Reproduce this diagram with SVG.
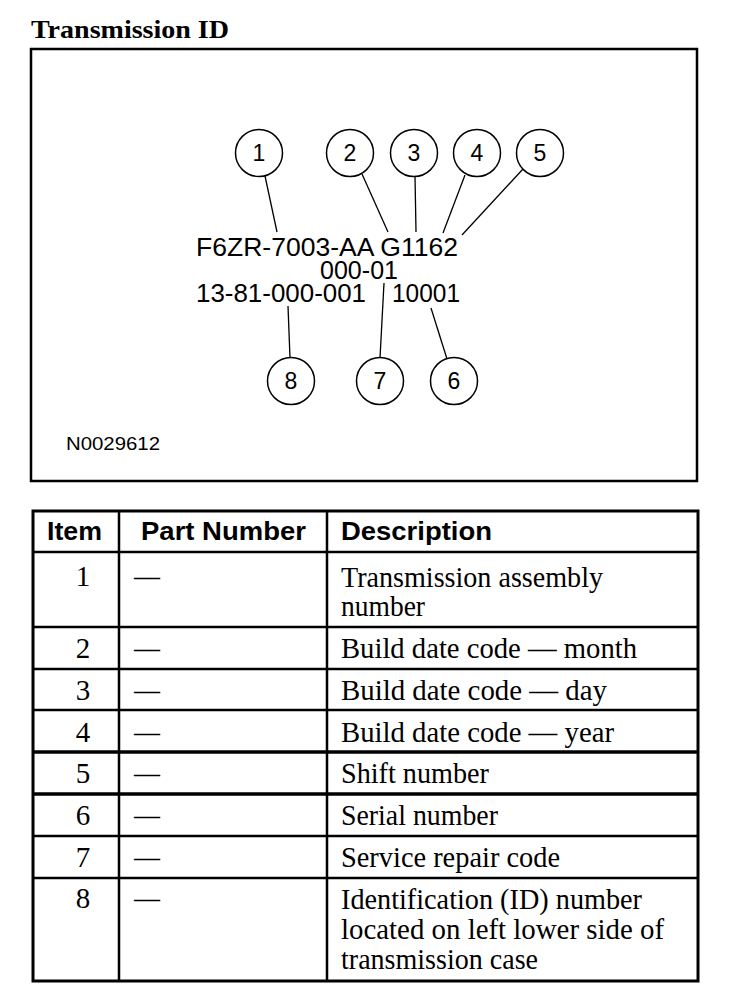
<svg xmlns="http://www.w3.org/2000/svg" width="736" height="990" viewBox="0 0 736 990">
<style>
.title{font-family:"Liberation Serif",serif;font-weight:bold;font-size:25px;fill:#000}
.code{font-family:"Liberation Sans",Arial,sans-serif;font-size:26px;fill:#000}
.num{font-family:"Liberation Sans",Arial,sans-serif;font-size:23px;fill:#000;text-anchor:middle}
.fig{font-family:"Liberation Sans",Arial,sans-serif;font-size:18px;fill:#000}
.hdr{font-family:"Liberation Sans",Arial,sans-serif;font-weight:bold;font-size:25px;fill:#000}
.cell{font-family:"Liberation Serif",serif;font-size:29px;fill:#000}
.item{font-family:"Liberation Serif",serif;font-size:29px;fill:#000;text-anchor:middle}
.circ{fill:#fff;stroke:#000;stroke-width:1.5}
.lead{stroke:#000;stroke-width:1.3;fill:none}
.grid{stroke:#000;stroke-width:2.5;fill:none}
.thick{stroke:#000;stroke-width:3.5;fill:none}
</style>
<rect width="736" height="990" fill="#fff"/>
<text class="title" x="31" y="38" textLength="198" lengthAdjust="spacingAndGlyphs">Transmission ID</text>
<rect x="31" y="49" width="666" height="432" fill="none" stroke="#000" stroke-width="2.5"/>

<g id="connectors">
<line class="lead" x1="265" y1="176" x2="277" y2="232"/>
<line class="lead" x1="362" y1="174" x2="388" y2="232"/>
<line class="lead" x1="415" y1="176" x2="416" y2="232"/>
<line class="lead" x1="465" y1="175" x2="443" y2="233"/>
<line class="lead" x1="523" y1="169" x2="462" y2="235"/>
<line class="lead" x1="288" y1="306" x2="290" y2="358"/>
<line class="lead" x1="384" y1="283" x2="380" y2="358"/>
<line class="lead" x1="431" y1="308" x2="447" y2="359"/>
</g>

<g id="code">
<text class="code" x="196" y="256" textLength="262" lengthAdjust="spacingAndGlyphs">F6ZR-7003-AA G1162</text>
<text class="code" x="320" y="279" textLength="78" lengthAdjust="spacingAndGlyphs">000-01</text>
<text class="code" x="196" y="302" textLength="170" lengthAdjust="spacingAndGlyphs">13-81-000-001</text>
<text class="code" x="392" y="302" textLength="68" lengthAdjust="spacingAndGlyphs">10001</text>
</g>

<g id="n1"><circle class="circ" cx="259" cy="153" r="23.5"/><text class="num" x="259" y="161">1</text></g>
<g id="n2"><circle class="circ" cx="350" cy="153" r="23.5"/><text class="num" x="350" y="161">2</text></g>
<g id="n3"><circle class="circ" cx="414" cy="153" r="23.5"/><text class="num" x="414" y="161">3</text></g>
<g id="n4"><circle class="circ" cx="477" cy="153" r="23.5"/><text class="num" x="477" y="161">4</text></g>
<g id="n5"><circle class="circ" cx="540" cy="153" r="23.5"/><text class="num" x="540" y="161">5</text></g>
<g id="n8"><circle class="circ" cx="291" cy="381" r="23.5"/><text class="num" x="291" y="389">8</text></g>
<g id="n7"><circle class="circ" cx="380" cy="381" r="23.5"/><text class="num" x="380" y="389">7</text></g>
<g id="n6"><circle class="circ" cx="454" cy="381" r="23.5"/><text class="num" x="454" y="389">6</text></g>

<text class="fig" x="66" y="450" textLength="94" lengthAdjust="spacingAndGlyphs">N0029612</text>

<g id="table">
<line class="grid" x1="119" y1="511" x2="119" y2="981"/>
<line class="grid" x1="327" y1="511" x2="327" y2="981"/>
<line class="grid" x1="33" y1="552" x2="698" y2="552"/>
<line class="grid" x1="33" y1="627" x2="698" y2="627"/>
<line class="grid" x1="33" y1="669" x2="698" y2="669"/>
<line class="grid" x1="33" y1="710" x2="698" y2="710"/>
<line class="thick" x1="33" y1="752" x2="698" y2="752"/>
<line class="thick" x1="33" y1="794" x2="698" y2="794"/>
<line class="grid" x1="33" y1="836" x2="698" y2="836"/>
<line class="grid" x1="33" y1="878" x2="698" y2="878"/>
<rect x="33" y="511" width="665" height="470" fill="none" stroke="#000" stroke-width="3"/>

<text class="hdr" x="47" y="540" textLength="55" lengthAdjust="spacingAndGlyphs">Item</text>
<text class="hdr" x="141" y="540" textLength="165" lengthAdjust="spacingAndGlyphs">Part Number</text>
<text class="hdr" x="341" y="540" textLength="151" lengthAdjust="spacingAndGlyphs">Description</text>

<text class="item" x="83" y="586">1</text>
<text class="cell" x="134" y="586" textLength="26" lengthAdjust="spacingAndGlyphs">—</text>
<text class="cell" x="341" y="587" textLength="262" lengthAdjust="spacingAndGlyphs">Transmission assembly</text>
<text class="cell" x="341" y="616" textLength="84" lengthAdjust="spacingAndGlyphs">number</text>

<text class="item" x="83" y="658">2</text>
<text class="cell" x="134" y="658" textLength="26" lengthAdjust="spacingAndGlyphs">—</text>
<text class="cell" x="341" y="658" textLength="296" lengthAdjust="spacingAndGlyphs">Build date code — month</text>

<text class="item" x="83" y="700">3</text>
<text class="cell" x="134" y="700" textLength="26" lengthAdjust="spacingAndGlyphs">—</text>
<text class="cell" x="341" y="700" textLength="266" lengthAdjust="spacingAndGlyphs">Build date code — day</text>

<text class="item" x="83" y="742">4</text>
<text class="cell" x="134" y="742" textLength="26" lengthAdjust="spacingAndGlyphs">—</text>
<text class="cell" x="341" y="742" textLength="273" lengthAdjust="spacingAndGlyphs">Build date code — year</text>

<text class="item" x="83" y="783">5</text>
<text class="cell" x="134" y="783" textLength="26" lengthAdjust="spacingAndGlyphs">—</text>
<text class="cell" x="341" y="783" textLength="148" lengthAdjust="spacingAndGlyphs">Shift number</text>

<text class="item" x="83" y="825">6</text>
<text class="cell" x="134" y="825" textLength="26" lengthAdjust="spacingAndGlyphs">—</text>
<text class="cell" x="341" y="825" textLength="157" lengthAdjust="spacingAndGlyphs">Serial number</text>

<text class="item" x="83" y="867">7</text>
<text class="cell" x="134" y="867" textLength="26" lengthAdjust="spacingAndGlyphs">—</text>
<text class="cell" x="341" y="867" textLength="219" lengthAdjust="spacingAndGlyphs">Service repair code</text>

<text class="item" x="83" y="908">8</text>
<text class="cell" x="134" y="908" textLength="26" lengthAdjust="spacingAndGlyphs">—</text>
<text class="cell" x="341" y="909" textLength="301" lengthAdjust="spacingAndGlyphs">Identification (ID) number</text>
<text class="cell" x="341" y="939" textLength="323" lengthAdjust="spacingAndGlyphs">located on left lower side of</text>
<text class="cell" x="341" y="969" textLength="197" lengthAdjust="spacingAndGlyphs">transmission case</text>
</g>
</svg>
